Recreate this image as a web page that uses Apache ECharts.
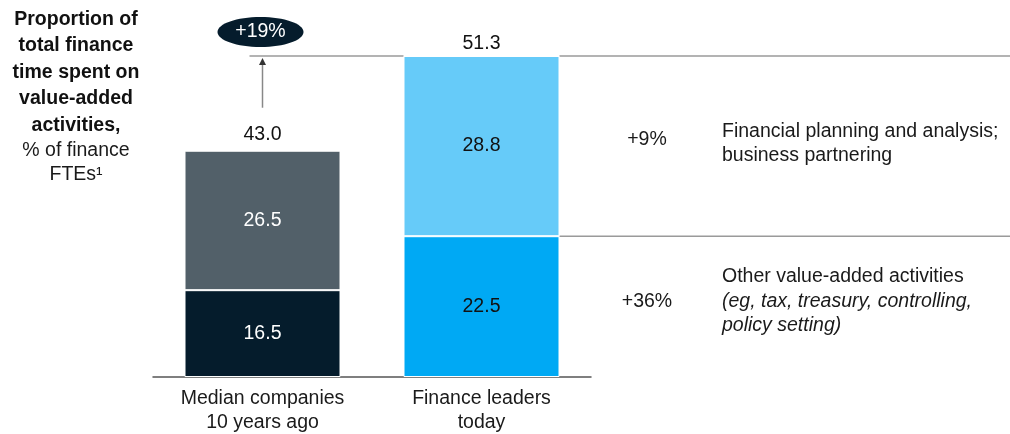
<!DOCTYPE html>
<html>
<head>
<meta charset="utf-8">
<script src="https://cdn.jsdelivr.net/npm/echarts@6/dist/echarts.min.js"></script>
<style>
html,body{margin:0;padding:0;background:#fff;}
#c{width:1010px;height:434px;}
</style>
</head>
<body>
<div id="c"></div>
<script>
// ---- data ----
const categories = ['Median companies\n10 years ago', 'Finance leaders\ntoday'];
const otherValues = [16.5, 22.5];      // other value-added activities
const fpaValues = [26.5, 28.8];        // FP&A; business partnering
const totals = [43.0, 51.3];
const totalChange = '+19%';
const fpaChange = '+9%';
const otherChange = '+36%';
const titleBold = ['Proportion of', 'total finance', 'time spent on', 'value-added', 'activities,'];
const titleNormal = ['% of finance', 'FTEs\u00b9'];
const fpaText = ['Financial planning and analysis;', 'business partnering'];
const otherText = 'Other value-added activities';
const otherItalic = ['(eg, tax, treasury, controlling,', 'policy setting)'];

const FONT = 'Liberation Sans';
const FS = 19.5;
const chart = echarts.init(document.getElementById('c'), null, {renderer: 'canvas'});

function lbl(color) {
  return {
    show: true, position: 'inside', color: color, fontFamily: FONT, fontSize: FS,
    formatter: p => Number(p.value).toFixed(1)
  };
}

const option = {
  animation: false,
  backgroundColor: '#fff',
  grid: {left: 153, right: 419, top: 56, bottom: 57, containLabel: false, outerBoundsMode: 'none'},
  xAxis: {
    type: 'category', data: categories,
    axisLine: {lineStyle: {color: '#555', width: 1.5}},
    axisTick: {show: false},
    axisLabel: {color: '#1a1a1a', fontFamily: FONT, fontSize: FS, lineHeight: 24, margin: 10}
  },
  yAxis: [
    {type: 'value', min: 0, max: 61, show: false},
    {type: 'value', min: 0, max: 51.3, show: false}
  ],
  series: [
    {type: 'bar', yAxisIndex: 0, stack: 's', barWidth: 156,
     data: [otherValues[0], '-'],
     itemStyle: {color: '#051c2c', borderColor: '#fff', borderWidth: 1}, label: lbl('#fff')},
    {type: 'bar', yAxisIndex: 0, stack: 's', barWidth: 156,
     data: [fpaValues[0], '-'],
     itemStyle: {color: '#526069', borderColor: '#fff', borderWidth: 1}, label: lbl('#fff')},
    {type: 'bar', yAxisIndex: 1, stack: 's', barWidth: 156,
     data: ['-', otherValues[1]],
     itemStyle: {color: '#00a9f4', borderColor: '#fff', borderWidth: 1}, label: lbl('#111')},
    {type: 'bar', yAxisIndex: 1, stack: 's', barWidth: 156,
     data: ['-', fpaValues[1]],
     itemStyle: {color: '#66cbf9', borderColor: '#fff', borderWidth: 1}, label: lbl('#111')},
    {type: 'scatter', yAxisIndex: 0, symbolSize: 0, data: [totals[0], '-'],
     itemStyle: {opacity: 1, color: '#111'},
     label: {show: true, position: 'top', distance: 6, color: '#111', fontFamily: FONT, fontSize: FS,
             formatter: p => Number(p.value).toFixed(1)}},
    {type: 'scatter', yAxisIndex: 1, symbolSize: 0, data: ['-', totals[1]],
     itemStyle: {opacity: 1, color: '#111'},
     label: {show: true, position: 'top', distance: 2, color: '#111', fontFamily: FONT, fontSize: FS,
             formatter: p => Number(p.value).toFixed(1)}}
  ]
};
chart.setOption(option);

// ---- annotations positioned from the axes ----
const x1 = chart.convertToPixel({xAxisIndex: 0}, categories[0]);
const x2 = chart.convertToPixel({xAxisIndex: 0}, categories[1]);
const yTop = chart.convertToPixel({yAxisIndex: 1}, totals[1]);
const yMid = chart.convertToPixel({yAxisIndex: 1}, otherValues[1]);
const y1Top = chart.convertToPixel({yAxisIndex: 0}, totals[0]);
const half = 78;
const lineStyle = {stroke: '#9a9a9a', lineWidth: 1.5};
const txt = (x, y, text, extra) => Object.assign({
  type: 'text', x: x, y: y,
  style: Object.assign({text: text, fill: '#1a1a1a', font: FS + 'px "' + FONT + '"', textVerticalAlign: 'middle'}, extra || {})
});

const richTitle = titleBold.map(t => '{b|' + t + '}').concat(titleNormal.map(t => '{n|' + t + '}')).join('\n');

chart.setOption({
  graphic: [
    {type: 'line', shape: {x1: x1 - 13, y1: yTop, x2: x2 - half, y2: yTop}, style: lineStyle},
    {type: 'line', shape: {x1: x2 + half, y1: yTop, x2: 1010, y2: yTop}, style: lineStyle},
    {type: 'line', shape: {x1: x2 + half, y1: yMid, x2: 1010, y2: yMid}, style: lineStyle},
    {type: 'line', shape: {x1: x1, y1: y1Top - 43, x2: x1, y2: yTop + 7}, style: {stroke: '#888', lineWidth: 1.5}},
    {type: 'polygon', shape: {points: [[x1, yTop + 2], [x1 - 3.5, yTop + 9], [x1 + 3.5, yTop + 9]]}, style: {fill: '#333'}},
    {type: 'ellipse', shape: {cx: x1 - 2, cy: yTop - 24, rx: 43, ry: 15}, style: {fill: '#051c2c'}},
    {type: 'text', x: x1 - 2, y: yTop - 24,
     style: {text: totalChange, fill: '#fff', font: FS + 'px "' + FONT + '"', textAlign: 'center', textVerticalAlign: 'middle'}},
    {type: 'text', x: 76, y: 6,
     style: {text: richTitle, textAlign: 'center',
             rich: {
               b: {fontFamily: FONT, fontWeight: 'bold', fontSize: FS, lineHeight: 26.5, fill: '#111', align: 'center'},
               n: {fontFamily: FONT, fontSize: FS, lineHeight: 24, fill: '#1a1a1a', align: 'center'}
             }}},
    txt(647, 140, fpaChange, {textAlign: 'center'}),
    txt(647, 302, otherChange, {textAlign: 'center'}),
    txt(722, 132, fpaText[0]),
    txt(722, 156, fpaText[1]),
    txt(722, 277, otherText),
    txt(722, 302, otherItalic[0], {font: 'italic ' + FS + 'px "' + FONT + '"'}),
    txt(722, 326, otherItalic[1], {font: 'italic ' + FS + 'px "' + FONT + '"'})
  ]
});
</script>
</body>
</html>
